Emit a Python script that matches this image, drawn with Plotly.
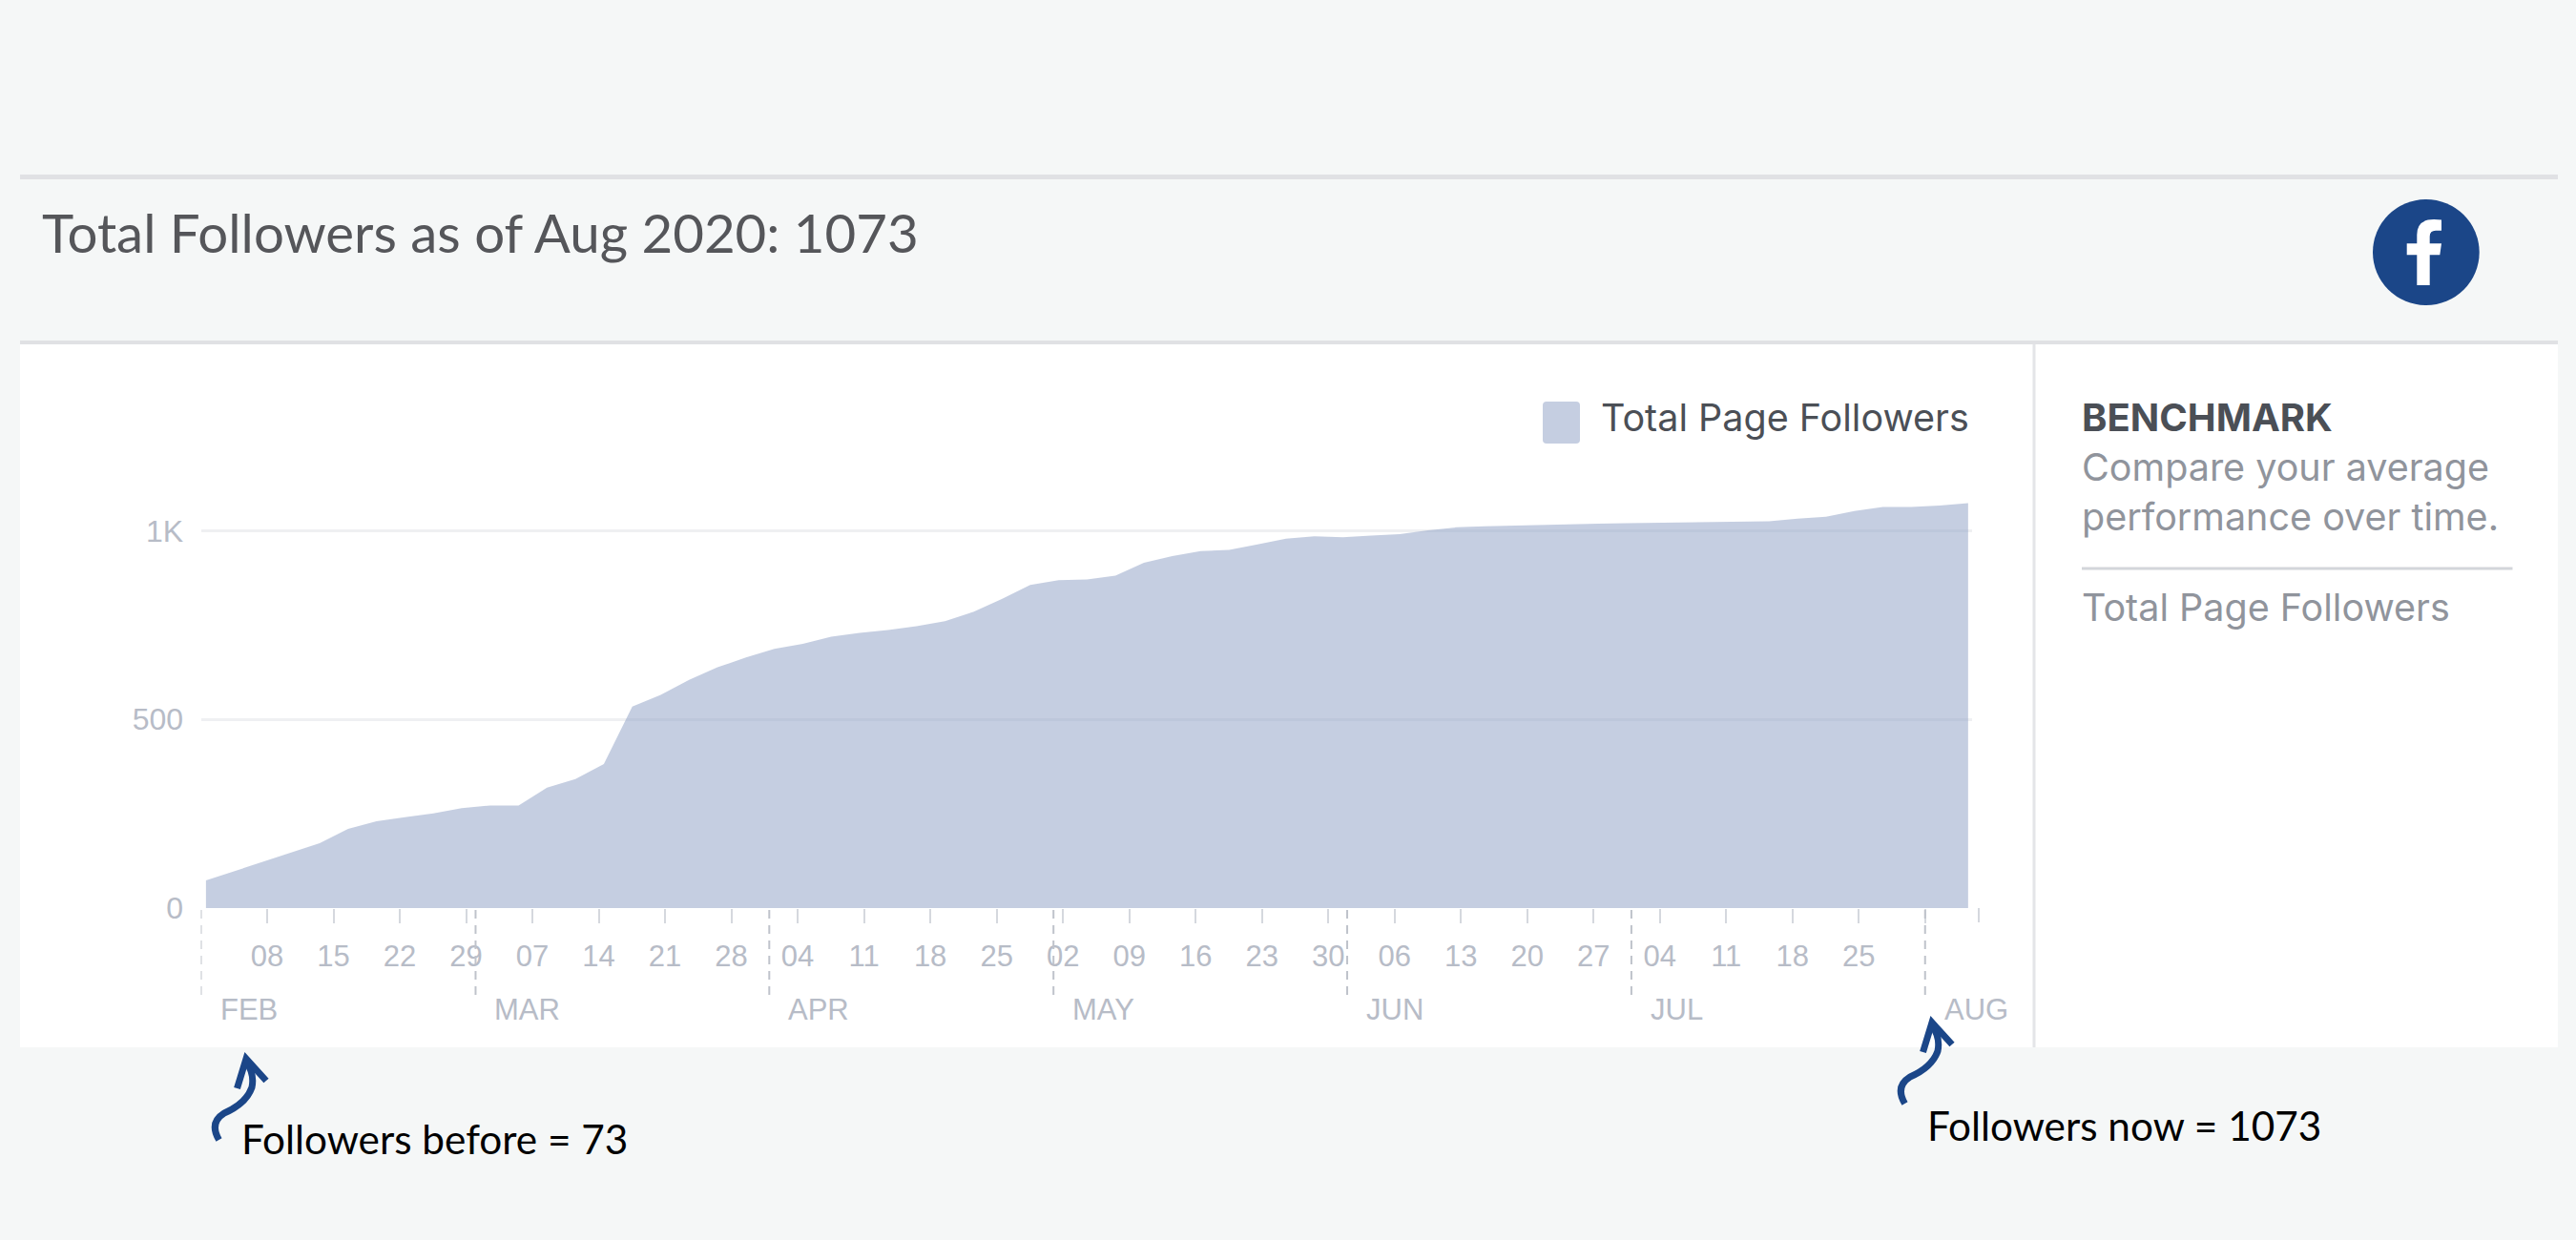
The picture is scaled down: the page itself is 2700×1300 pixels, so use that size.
import pandas as pd
import plotly.graph_objects as go

W, H = 2700, 1300

# ---- data ----
followers = [73, 98, 122, 146, 172, 210, 230, 241, 251, 265, 272, 272, 319, 342, 382, 534,
             565, 605, 638, 664, 687, 700, 719, 729, 737, 747, 760, 785, 819, 856, 869, 871,
             881, 915, 933, 946, 949, 964, 979, 985, 983, 987, 991, 1001, 1009, 1012, 1014,
             1015, 1017, 1019, 1020, 1021, 1023, 1024, 1024, 1025, 1032, 1037, 1052, 1063,
             1063, 1067, 1073]
dates = pd.date_range("2020-02-01 13:00", periods=len(followers), freq="3D")
week_ticks = ["2020-02-08", "2020-02-15", "2020-02-22", "2020-02-29", "2020-03-07", "2020-03-14",
              "2020-03-21", "2020-03-28", "2020-04-04", "2020-04-11", "2020-04-18", "2020-04-25",
              "2020-05-02", "2020-05-09", "2020-05-16", "2020-05-23", "2020-05-30", "2020-06-06",
              "2020-06-13", "2020-06-20", "2020-06-27", "2020-07-04", "2020-07-11", "2020-07-18",
              "2020-07-25"]
week_labels = ["08", "15", "22", "29", "07", "14", "21", "28", "04", "11", "18", "25",
               "02", "09", "16", "23", "30", "06", "13", "20", "27", "04", "11", "18", "25"]
month_starts = ["2020-02-01", "2020-03-01", "2020-04-01", "2020-05-01", "2020-06-01", "2020-07-01", "2020-08-01"]
month_labels = ["FEB", "MAR", "APR", "MAY", "JUN", "JUL", "AUG"]
y_ticks = [0, 500, 1000]
y_labels = ["0", "500", "1K"]

TITLE = "Total Followers as of Aug 2020: 1073"
SERIES = "Total Page Followers"

BG = "#f5f7f7"
RULE = "#e0e1e4"
BLUE = "#1b4688"
AXIS_TXT = "#b7bcc7"
DARK = "#4b4f56"
GREY = "#90949c"


def px(x):
    return x / W


def py(y):
    return 1 - y / H


def rect(x0, y0, x1, y1, color, layer="below"):
    return dict(type="rect", xref="paper", yref="paper", x0=px(x0), x1=px(x1), y0=py(y0), y1=py(y1),
                fillcolor=color, line_width=0, layer=layer)


def path(points_cmd, **kw):
    return dict(type="path", xref="paper", yref="paper", path=points_cmd, **kw)


def P(x, y):
    return f"{px(x):.6f},{py(y):.6f}"


def arrow(dx, dy):
    body = (f"M{P(229.5+dx,1195+dy)} Q{P(219+dx,1177+dy)} {P(235+dx,1167+dy)} "
            f"Q{P(258+dx,1157+dy)} {P(264+dx,1140+dy)} Q{P(267+dx,1126+dy)} {P(258+dx,1113+dy)}")
    head = f"M{P(248.5+dx,1141+dy)} L{P(258+dx,1110+dy)} L{P(279+dx,1133+dy)}"
    return [path(body, line=dict(color=BLUE, width=7), layer="above"),
            path(head, line=dict(color=BLUE, width=7), layer="above")]


shapes = [
    rect(21, 183, 2681, 188, RULE),
    rect(21, 357, 2681, 361, RULE),
    rect(21, 361, 2681, 1098, "#ffffff"),
    rect(2130.5, 361, 2133.5, 1098, "#e4e5e8"),
    rect(2182, 594.5, 2633.5, 597.5, "#d3d6da"),
    # last axis tick
    rect(2073, 952, 2075, 967, "#d5d8de"),
    # legend swatch
    path(f"M{P(1621,421)} L{P(1652,421)} Q{P(1656,421)} {P(1656,425)} L{P(1656,461)} Q{P(1656,465)} {P(1652,465)} "
         f"L{P(1621,465)} Q{P(1617,465)} {P(1617,461)} L{P(1617,425)} Q{P(1617,421)} {P(1621,421)} Z",
         fillcolor="#c5cee1", line_width=0, layer="above"),
    # logo
    dict(type="circle", xref="paper", yref="paper", x0=px(2487), x1=px(2598.7), y0=py(320), y1=py(209),
         fillcolor=BLUE, line_width=0, layer="above"),
    path(f"M{P(2533.3,299)} L{P(2533.3,267.3)} L{P(2522.7,267.3)} L{P(2522.7,255.3)} L{P(2533.3,255.3)} "
         f"L{P(2533.3,246)} Q{P(2533.5,230)} {P(2551,230)} L{P(2559,230.5)} L{P(2559,241.7)} L{P(2553,241.7)} "
         f"Q{P(2546.7,241.7)} {P(2546.7,248)} L{P(2546.7,255.3)} L{P(2559,255.3)} L{P(2557.3,267.3)} "
         f"L{P(2546.7,267.3)} L{P(2546.7,299)} Z",
         fillcolor="#ffffff", line_width=0, layer="above"),
    *arrow(0, 0),
    *arrow(1767, -38),
]

# month separators: dashed lines dropping below the axis
plot_top, plot_bottom = 361, 952
plot_h = plot_bottom - plot_top
for m in month_starts:
    shapes.append(dict(type="line", xref="x", yref="paper", x0=m, x1=m,
                       y0=py(954), y1=py(1045),
                       line=dict(color="#bfc3cb", width=2, dash="9px,7px"), layer="above"))


def note(x, y, text, size, color, family, anchor="left"):
    return dict(xref="paper", yref="paper", x=px(x), y=py(y), text=text, showarrow=False, xanchor=anchor,
                yanchor="middle", font=dict(size=size, color=color, family=family), borderpad=0, borderwidth=0)


annotations = [
    note(44, 243, TITLE, 56.4, "#55565a", "Lato"),
    note(1678, 438, SERIES, 39.5, DARK, "Inter"),
    note(2182, 438, "<b>BENCHMARK</b>", 40, DARK, "Inter"),
    note(2182, 490, "Compare your average", 39.5, GREY, "Inter"),
    note(2182, 542, "performance over time.", 39.5, GREY, "Inter"),
    note(2182, 637, SERIES, 39.5, GREY, "Inter"),
    note(253, 1193, "Followers before = 73", 42.3, "#000000", "Lato"),
    note(2020, 1179, "Followers now = 1073", 42.3, "#000000", "Lato"),
]
for m, label in zip(month_starts, month_labels):
    annotations.append(dict(xref="x", yref="paper", x=m, y=py(1058), text=label, showarrow=False,
                            xanchor="left", yanchor="middle", xshift=18,
                            font=dict(size=31, color=AXIS_TXT, family="Liberation Sans")))

fig = go.Figure(go.Scatter(
    x=dates, y=followers, mode="lines", fill="tozeroy", name=SERIES,
    line=dict(width=0, color="rgba(139,157,195,0.5)"), fillcolor="rgba(139,157,195,0.5)",
    showlegend=False, hoverinfo="x+y",
))

day_px = 9.93
x_end_days = (2067 - 210.5) / day_px
x_end = pd.Timestamp("2020-02-01") + pd.Timedelta(days=x_end_days)

fig.update_layout(
    template="none",
    width=W, height=H, autosize=False,
    margin=dict(l=0, r=0, t=0, b=0, pad=0, autoexpand=False),
    paper_bgcolor=BG, plot_bgcolor="rgba(0,0,0,0)",
    shapes=shapes, annotations=annotations, showlegend=False,
    xaxis=dict(
        type="date", domain=[px(210.5), px(2067)], automargin=False,
        range=["2020-02-01", x_end.isoformat()],
        tickmode="array", tickvals=week_ticks + ["2020-08-01"], ticktext=week_labels + [""],
        ticks="outside", ticklen=15, tickwidth=2, tickcolor="#d5d8de",
        tickfont=dict(size=31, color=AXIS_TXT, family="Liberation Sans"),
        ticklabelstandoff=8,
        showgrid=False, zeroline=False, showline=False,
    ),
    yaxis=dict(
        domain=[py(plot_bottom), py(plot_top)], automargin=False,
        range=[0, plot_h / 0.3956],
        tickmode="array", tickvals=y_ticks, ticktext=y_labels,
        ticks="outside", ticklen=1, tickcolor="rgba(0,0,0,0)",
        tickfont=dict(size=32, color=AXIS_TXT, family="Liberation Sans"),
        ticklabelstandoff=10,
        showgrid=True, gridcolor="#eff0f2", gridwidth=3,
        zeroline=False, showline=False,
    ),
)

fig.write_html("out.html", config=dict(displayModeBar=False),
               post_script="document.body.style.margin='0';document.body.style.overflow='hidden';")
